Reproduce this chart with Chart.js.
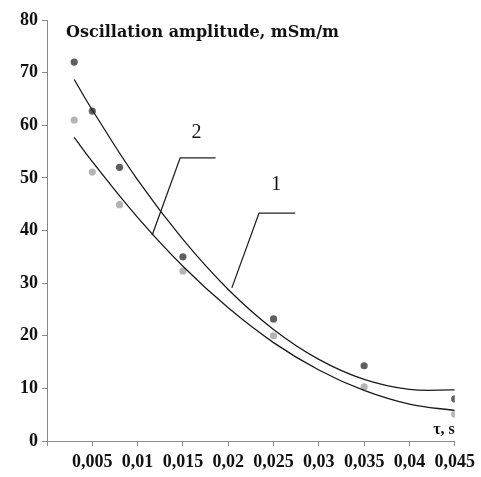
<!DOCTYPE html>
<html>
<head>
<meta charset="utf-8">
<script src="https://cdn.jsdelivr.net/npm/chart.js@4.4.1/dist/chart.umd.min.js"></script>
<style>
html,body{margin:0;padding:0;background:#fff;}
#wrap{width:481px;height:477px;}
</style>
</head>
<body>
<div id="wrap"><canvas id="c" width="481" height="477"></canvas></div>
<script>
// Measured points (tau, s)
const tauPoints = [0.003, 0.005, 0.008, 0.015, 0.025, 0.035, 0.045];
const series1 = [72, 62.7, 52, 35, 23.2, 14.3, 8];     // dark points (curve 1)
const series2 = [61, 51.1, 44.9, 32.3, 20, 10.3, 5.1]; // light points (curve 2)

// Trend curves
const trendTau = [0.003, 0.005, 0.01, 0.015, 0.02, 0.025, 0.03, 0.035, 0.04, 0.045];
const trend1 = [68.7, 62.9, 49.6, 38.3, 28.8, 21.2, 15.5, 11.7, 9.8, 9.7];
const trend2 = [57.7, 53.1, 42.5, 33.2, 25.3, 18.7, 13.5, 9.6, 7.0, 5.8];

// Axis tick settings
const yTicks = [0, 10, 20, 30, 40, 50, 60, 70, 80];
const xTickStep = 0.005;

const titleText = 'Oscillation amplitude, mSm/m';
const xAxisText = 'τ, s';

// Curve labels with leader lines (data coordinates)
const labels = [
  {text: '1', x: 0.0253, y: 48.6, path: [[0.0274, 43.3], [0.0234, 43.3], [0.0204, 29.1]]},
  {text: '2', x: 0.0165, y: 58.5, path: [[0.0186, 53.8], [0.0147, 53.8], [0.0116, 39.1]]}
];

const toXY = (xs, ys) => xs.map((x, i) => ({x: x, y: ys[i]}));

const serif = '"Liberation Serif", "Times New Roman", serif';
const wideSerif = '"DejaVu Serif", serif';

const overlay = {
  id: 'overlay',
  afterDatasetsDraw(chart) {
    const ctx = chart.ctx;
    const xs = chart.scales.x, ys = chart.scales.y;
    ctx.save();
    // title
    ctx.fillStyle = '#111';
    ctx.font = 'bold 16px ' + wideSerif;
    ctx.textAlign = 'left';
    ctx.textBaseline = 'alphabetic';
    ctx.fillText(titleText, 66, 37);
    // axis name
    ctx.font = 'bold 16px ' + serif;
    ctx.textAlign = 'right';
    ctx.fillText(xAxisText, chart.chartArea.right, 434);
    // curve labels
    ctx.strokeStyle = '#222';
    ctx.lineWidth = 1.3;
    ctx.font = '20px ' + serif;
    ctx.textAlign = 'center';
    ctx.textBaseline = 'middle';
    labels.forEach(l => {
      ctx.fillText(l.text, xs.getPixelForValue(l.x), ys.getPixelForValue(l.y));
      ctx.beginPath();
      l.path.forEach((p, i) => {
        const px = xs.getPixelForValue(p[0]), py = ys.getPixelForValue(p[1]);
        if (i === 0) ctx.moveTo(px, py); else ctx.lineTo(px, py);
      });
      ctx.stroke();
    });
    ctx.restore();
  }
};

new Chart(document.getElementById('c'), {
  type: 'scatter',
  data: {
    datasets: [
      {data: toXY(trendTau, trend1), showLine: true, borderColor: '#1a1a1a', borderWidth: 1.3, pointRadius: 0, tension: 0.4, fill: false},
      {data: toXY(trendTau, trend2), showLine: true, borderColor: '#1a1a1a', borderWidth: 1.3, pointRadius: 0, tension: 0.4, fill: false},
      {data: toXY(tauPoints, series1), showLine: false, pointRadius: 3.6, pointBackgroundColor: '#5f5f5f', pointBorderWidth: 0, borderColor: '#5f5f5f'},
      {data: toXY(tauPoints, series2), showLine: false, pointRadius: 3.6, pointBackgroundColor: '#b4b4b4', pointBorderWidth: 0, borderColor: '#b4b4b4'}
    ]
  },
  options: {
    responsive: false,
    animation: false,
    layout: {padding: {top: 20, right: 23, left: 0, bottom: 0}},
    plugins: {legend: {display: false}, tooltip: {enabled: false}},
    scales: {
      x: {
        type: 'linear', min: 0, max: 0.045,
        afterFit: s => { s.height = 36; },
        border: {display: true, color: '#8a8a8a', width: 1},
        grid: {display: true, drawOnChartArea: false, drawTicks: true, tickLength: 5, color: '#8a8a8a'},
        ticks: {
          stepSize: xTickStep, padding: 6, color: '#111', maxRotation: 0, autoSkip: false,
          font: {family: serif, size: 18, weight: 'bold'},
          callback: v => v === 0 ? '' : parseFloat(v.toFixed(4)).toString().replace('.', ',')
        }
      },
      y: {
        type: 'linear', min: yTicks[0], max: yTicks[yTicks.length - 1],
        afterFit: s => { s.width = 47; },
        border: {display: true, color: '#8a8a8a', width: 1},
        grid: {display: true, drawOnChartArea: false, drawTicks: true, tickLength: 5, color: '#8a8a8a'},
        afterBuildTicks: s => { s.ticks = yTicks.map(v => ({value: v})); },
        ticks: {
          padding: 4, color: '#111',
          font: {family: serif, size: 18, weight: 'bold'},
          callback: v => String(v)
        }
      }
    }
  },
  plugins: [overlay]
});
</script>
</body>
</html>
